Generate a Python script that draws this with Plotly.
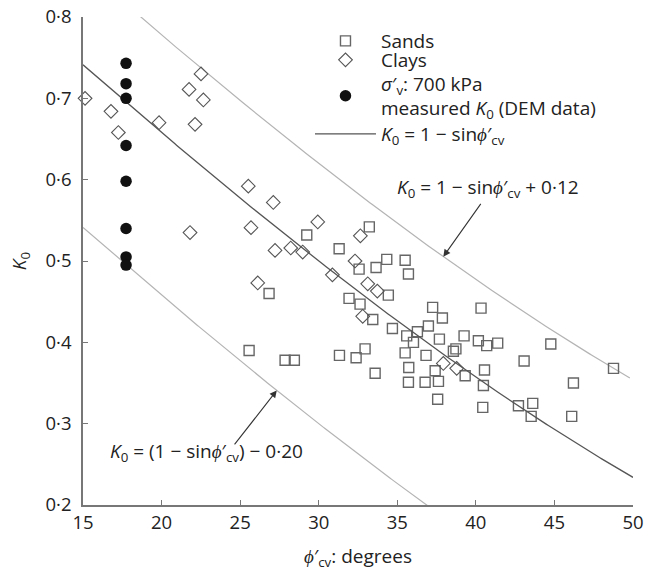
import numpy as np
import plotly.graph_objects as go

# ---------------- data ----------------
sands_phi = [29.24, 26.84, 33.22, 31.30, 34.33, 35.50, 32.57, 33.65, 35.71, 34.43,
             31.93, 32.63, 33.44, 34.69, 35.60, 36.28, 36.03, 35.50, 35.73, 35.71,
             36.77, 36.83, 36.98, 25.57, 27.86, 28.45, 31.32, 32.38, 32.95, 33.59,
             37.25, 37.87, 40.33, 37.68, 39.25, 40.16, 40.69, 41.39, 38.73, 44.77,
             43.07, 48.76, 38.57, 37.41, 39.32, 40.55, 40.48, 37.62, 46.21, 37.57,
             40.44, 42.71, 43.62, 43.52, 46.10]
sands_k0 = [0.532, 0.460, 0.542, 0.515, 0.502, 0.501, 0.490, 0.492, 0.484, 0.458,
            0.454, 0.447, 0.428, 0.417, 0.408, 0.413, 0.400, 0.387, 0.369, 0.351,
            0.351, 0.384, 0.420, 0.390, 0.378, 0.378, 0.384, 0.381, 0.392, 0.362,
            0.443, 0.430, 0.442, 0.404, 0.408, 0.402, 0.396, 0.399, 0.392, 0.398,
            0.377, 0.368, 0.389, 0.365, 0.359, 0.366, 0.347, 0.352, 0.350, 0.330,
            0.320, 0.322, 0.325, 0.309, 0.309]

clays_phi = [15.13, 16.78, 17.25, 19.84, 21.75, 22.51, 22.66, 22.13, 21.81, 25.52,
             25.69, 27.11, 27.22, 26.12, 28.22, 28.98, 29.94, 32.65, 32.31, 30.87,
             33.12, 33.73, 32.80, 37.93, 38.78]
clays_k0 = [0.700, 0.684, 0.658, 0.670, 0.711, 0.730, 0.698, 0.668, 0.535, 0.592,
            0.541, 0.572, 0.513, 0.473, 0.516, 0.511, 0.548, 0.531, 0.500, 0.483,
            0.472, 0.463, 0.432, 0.374, 0.368]

dem_phi = [17.74, 17.74, 17.74, 17.74, 17.74, 17.74, 17.74, 17.74]
dem_k0 = [0.743, 0.718, 0.700, 0.642, 0.598, 0.540, 0.505, 0.495]

upper_offset = 0.12
lower_offset = -0.20
x_ticks = [15, 20, 25, 30, 35, 40, 45, 50]
y_ticks = [0.2, 0.3, 0.4, 0.5, 0.6, 0.7, 0.8]
y_ticktext = ["0·2", "0·3", "0·4", "0·5", "0·6", "0·7", "0·8"]

# arrow targets (phi on the curve) and tails (phi, K0)
upper_arrow_phi, upper_tail = 37.93, (40.38, 0.572)
lower_arrow_phi, lower_tail = 27.33, (24.57, 0.2726)


def jaky(phi):
    return 1 - np.sin(np.radians(phi))


FONT = "Open Sans"
FS = 19
TICK_FS = 18.5
PHI = "<i>ϕ</i>′<sub>cv</sub>"
K0 = "<i>K</i><sub>0</sub>"

phi_line = np.linspace(15, 50, 300)
phi_upper = np.linspace(15, 49.8, 300)
phi_lower = np.linspace(15, 37.0, 300)

fig = go.Figure()

fig.add_trace(go.Scatter(x=phi_upper, y=jaky(phi_upper) + upper_offset, mode="lines",
                         line=dict(color="#b4b4b4", width=1.2), showlegend=False,
                         hoverinfo="skip"))
fig.add_trace(go.Scatter(x=phi_lower, y=jaky(phi_lower) + lower_offset, mode="lines",
                         line=dict(color="#b4b4b4", width=1.2), showlegend=False,
                         hoverinfo="skip"))

fig.add_trace(go.Scatter(x=sands_phi, y=sands_k0, mode="markers", name="Sands",
                         marker=dict(symbol="square-open", size=10,
                                     color="#666666", line=dict(width=1.4, color="#666666")),
                         legend="legend", cliponaxis=False))
fig.add_trace(go.Scatter(x=clays_phi, y=clays_k0, mode="markers", name="Clays",
                         marker=dict(symbol="diamond-open", size=10.5,
                                     color="#555555", line=dict(width=1.1, color="#555555")),
                         legend="legend2", cliponaxis=False))
fig.add_trace(go.Scatter(x=phi_line, y=jaky(phi_line), mode="lines",
                         name=f"{K0} = 1 − sin{PHI}",
                         line=dict(color="#555555", width=1.3), legend="legend4"))
fig.add_trace(go.Scatter(x=dem_phi, y=dem_k0, mode="markers",
                         name=f"<i>σ</i>′<sub>v</sub>: 700 kPa<br>measured {K0} (DEM data)",
                         marker=dict(symbol="circle", size=11.5, color="#111111"),
                         legend="legend3", cliponaxis=False))

annotations = [
    dict(x=upper_arrow_phi, y=float(jaky(upper_arrow_phi) + upper_offset),
         ax=upper_tail[0], ay=upper_tail[1], axref="x", ayref="y", xref="x", yref="y",
         text="", showarrow=True, arrowhead=2, arrowsize=1.3, arrowwidth=1.1,
         arrowcolor="#333333", standoff=0),
    dict(x=lower_arrow_phi, y=float(jaky(lower_arrow_phi) + lower_offset),
         ax=lower_tail[0], ay=lower_tail[1], axref="x", ayref="y", xref="x", yref="y",
         text="", showarrow=True, arrowhead=2, arrowsize=1.3, arrowwidth=1.1,
         arrowcolor="#333333", standoff=0),
    dict(x=34.86, y=0.59, xref="x", yref="y", xanchor="left", yanchor="middle",
         text=f"{K0} = 1 − sin{PHI} + 0·12", showarrow=False,
         font=dict(family=FONT, size=FS, color="#222222")),
    dict(x=16.59, y=0.265, xref="x", yref="y", xanchor="left", yanchor="middle",
         text=f"{K0} = (1 − sin{PHI}) − 0·20", showarrow=False,
         font=dict(family=FONT, size=FS, color="#222222")),
]

leg_common = dict(xanchor="left", yanchor="middle", bgcolor="rgba(0,0,0,0)",
                  itemwidth=61, font=dict(family=FONT, size=FS, color="#222222"),
                  valign="middle")

fig.update_layout(
    width=659, height=574,
    margin=dict(l=83, r=26, t=17, b=69, autoexpand=False),
    paper_bgcolor="white", plot_bgcolor="white",
    font=dict(family=FONT, size=FS, color="#222222"),
    annotations=annotations,
    legend=dict(x=0.4127, y=0.9508, **leg_common),
    legend2=dict(x=0.4127, y=0.9119, **leg_common),
    legend3=dict(x=0.4127, y=0.8381, **leg_common),
    legend4=dict(x=0.4127, y=0.7602, **leg_common),
)

fig.update_xaxes(range=[15, 50], tickvals=x_ticks, ticks="inside", ticklen=5,
                 tickcolor="#777777", tickwidth=1.3, showline=True, linecolor="#777777",
                 linewidth=1.5, showgrid=False, zeroline=False, automargin=False,
                 ticklabeloverflow="allow",
                 tickfont=dict(family=FONT, size=TICK_FS, color="#222222"),
                 title=dict(text=f"{PHI}: degrees", standoff=17,
                            font=dict(family=FONT, size=FS, color="#222222")))
fig.update_yaxes(range=[0.2, 0.8], tickvals=y_ticks, ticktext=y_ticktext, ticks="inside",
                 ticklen=5, tickcolor="#777777", tickwidth=1.3, showline=True,
                 linecolor="#777777", linewidth=1.5, showgrid=False, zeroline=False,
                 ticklabelstandoff=6, automargin=False, ticklabeloverflow="allow",
                 tickfont=dict(family=FONT, size=TICK_FS, color="#222222"),
                 title=dict(text=K0, standoff=14,
                            font=dict(family=FONT, size=FS, color="#222222")))

# remove the default page margin so the figure sits at the window's top-left corner
fig.write_html("out.html",
               config={"displayModeBar": False},
               post_script="document.body.style.margin='0';")
